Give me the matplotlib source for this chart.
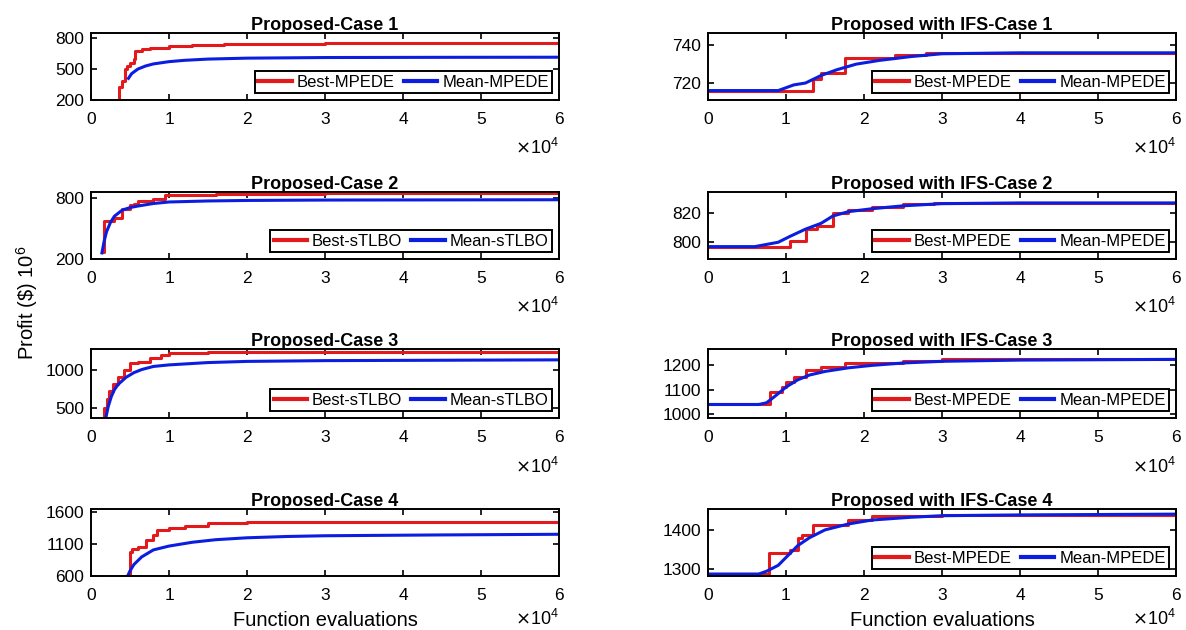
import matplotlib
matplotlib.use("Agg")
import matplotlib.pyplot as plt
from matplotlib.ticker import FuncFormatter

plt.rcParams['font.family'] = ['Liberation Sans', 'DejaVu Sans']

RED = '#e31a1c'
BLUE = '#0b1ee0'

# ---- Proposed, Case 1 (MPEDE) ----
c1_best_x = [3400, 3600, 4000, 4300, 4600, 5000, 5500, 5700, 6500, 7500, 10000, 13000, 17000, 20000, 30000, 60000]
c1_best_y = [200, 330, 380, 500, 530, 560, 600, 675, 690, 705, 720, 730, 740, 745, 750, 750]
c1_mean_x = [4800, 5200, 6000, 7000, 8000, 10000, 12000, 15000, 20000, 30000, 45000, 60000]
c1_mean_y = [410, 455, 500, 530, 550, 572, 585, 597, 606, 612, 614, 615]

# ---- Proposed, Case 2 (sTLBO) ----
c2_best_x = [1400, 1700, 3000, 4000, 5000, 5500, 6000, 8000, 9500, 12000, 16000, 20000, 30000, 60000]
c2_best_y = [270, 575, 600, 690, 730, 745, 770, 790, 825, 830, 835, 840, 845, 845]
c2_mean_x = [1400, 1700, 2000, 2500, 3000, 4000, 5000, 6000, 8000, 10000, 15000, 20000, 30000, 60000]
c2_mean_y = [260, 380, 470, 560, 620, 680, 705, 720, 745, 760, 770, 775, 779, 782]

# ---- Proposed, Case 3 (sTLBO) ----
c3_best_x = [1500, 1700, 2000, 2300, 2800, 3500, 4200, 5000, 6000, 7500, 9000, 10000, 15000, 20000, 30000, 60000]
c3_best_y = [375, 500, 620, 720, 810, 900, 990, 1080, 1100, 1150, 1185, 1210, 1220, 1228, 1230, 1230]
c3_mean_x = [1900, 2200, 2600, 3000, 3500, 4500, 5500, 6500, 8000, 10000, 15000, 20000, 30000, 45000, 60000]
c3_mean_y = [375, 520, 650, 740, 810, 900, 960, 1000, 1040, 1060, 1090, 1105, 1115, 1120, 1125]

# ---- Proposed, Case 4 (no legend) ----
c4_best_x = [4500, 5000, 5300, 6000, 7000, 8000, 8500, 10000, 12000, 15000, 20000, 30000, 60000]
c4_best_y = [600, 980, 1020, 1060, 1160, 1250, 1320, 1350, 1390, 1425, 1445, 1455, 1460]
c4_mean_x = [4700, 5000, 5500, 6500, 8000, 10000, 13000, 16000, 20000, 25000, 30000, 45000, 60000]
c4_mean_y = [600, 680, 780, 900, 1010, 1070, 1130, 1170, 1200, 1220, 1232, 1245, 1255]

# ---- Proposed with IFS, Case 1 ----
i1_best_x = [0, 13500, 14500, 17500, 18000, 24000, 28000, 60000]
i1_best_y = [716, 722, 725.5, 733, 733, 735, 736, 736]
i1_mean_x = [0, 9000, 10000, 11000, 12500, 14500, 16500, 19000, 22000, 26000, 30000, 40000, 60000]
i1_mean_y = [716, 716, 717.5, 719, 720, 724, 727, 730, 732, 734, 735.5, 736, 736]

# ---- Proposed with IFS, Case 2 ----
i2_best_x = [0, 10500, 12500, 14000, 16000, 18000, 21000, 25000, 29000, 60000]
i2_best_y = [797, 801, 809, 811, 820, 822, 824, 826, 827, 827]
i2_mean_x = [0, 6000, 7000, 9000, 10500, 12500, 14500, 16000, 18000, 21000, 25000, 30000, 40000, 60000]
i2_mean_y = [797, 797, 798, 800, 804, 809, 813, 818, 821, 823, 825, 826.5, 827, 827]

# ---- Proposed with IFS, Case 3 ----
i3_best_x = [0, 8000, 9500, 10000, 11000, 12500, 14500, 17500, 25000, 30000, 60000]
i3_best_y = [1038, 1090, 1110, 1130, 1150, 1180, 1195, 1210, 1218, 1225, 1225]
i3_mean_x = [0, 6500, 7500, 8500, 10000, 11500, 13000, 15000, 18000, 21000, 25000, 30000, 40000, 60000]
i3_mean_y = [1038, 1038, 1045, 1070, 1110, 1140, 1160, 1175, 1190, 1200, 1210, 1217, 1222, 1225]

# ---- Proposed with IFS, Case 4 ----
i4_best_x = [0, 7800, 10500, 11500, 12000, 13500, 18000, 21000, 30000, 60000]
i4_best_y = [1288, 1342, 1350, 1380, 1388, 1412, 1425, 1435, 1438, 1438]
i4_mean_x = [0, 6500, 7500, 9000, 10000, 11500, 13000, 15000, 18000, 21000, 26000, 30000, 40000, 60000]
i4_mean_y = [1288, 1288, 1295, 1310, 1330, 1360, 1380, 1400, 1415, 1425, 1432, 1436, 1438, 1440]

left_titles = ['Proposed-Case 1', 'Proposed-Case 2', 'Proposed-Case 3', 'Proposed-Case 4']
right_titles = ['Proposed with IFS-Case 1', 'Proposed with IFS-Case 2',
                'Proposed with IFS-Case 3', 'Proposed with IFS-Case 4']
left_legends = [('Best-MPEDE', 'Mean-MPEDE'), ('Best-sTLBO', 'Mean-sTLBO'),
                ('Best-sTLBO', 'Mean-sTLBO'), None]
right_legends = [('Best-MPEDE', 'Mean-MPEDE')] * 4

left_data = [(c1_best_x, c1_best_y, c1_mean_x, c1_mean_y),
             (c2_best_x, c2_best_y, c2_mean_x, c2_mean_y),
             (c3_best_x, c3_best_y, c3_mean_x, c3_mean_y),
             (c4_best_x, c4_best_y, c4_mean_x, c4_mean_y)]
right_data = [(i1_best_x, i1_best_y, i1_mean_x, i1_mean_y),
              (i2_best_x, i2_best_y, i2_mean_x, i2_mean_y),
              (i3_best_x, i3_best_y, i3_mean_x, i3_mean_y),
              (i4_best_x, i4_best_y, i4_mean_x, i4_mean_y)]

left_ylim = [(200, 850), (200, 858), (375, 1265), (600, 1652)]
left_yticks = [[200, 500, 800], [200, 800], [500, 1000], [600, 1100, 1600]]
right_ylim = [(711, 746.5), (788.5, 834.5), (982, 1268), (1283, 1453)]
right_yticks = [[720, 740], [800, 820], [1000, 1100, 1200], [1300, 1400]]

W, H = 1186, 630
fig = plt.figure(figsize=(W / 100, H / 100), dpi=100)

rows_px = [(33, 100), (192, 259), (349, 418), (509, 576)]
cols_px = [(91, 559), (708, 1176)]

xfmt = FuncFormatter(lambda v, p: f'{v / 1e4:g}')


def draw_panel(ax, data, title, legend, ylim, yticks, last_row):
    bx, by, mx, my = data
    lb, = ax.plot(bx, by, color=RED, lw=2.2, drawstyle='steps-post')
    lm, = ax.plot(mx, my, color=BLUE, lw=2.2)
    ax.set_xlim(0, 60000)
    ax.set_ylim(*ylim)
    ax.set_xticks([0, 10000, 20000, 30000, 40000, 50000, 60000])
    ax.xaxis.set_major_formatter(xfmt)
    ax.set_yticks(yticks)
    ax.tick_params(direction='in', top=True, right=True, length=4, width=1.2,
                   labelsize=12.5)
    ax.tick_params(axis='x', pad=8.5)
    ax.tick_params(axis='y', pad=5)
    for s in ax.spines.values():
        s.set_linewidth(1.4)
    ax.set_title(title, fontsize=13, fontweight='bold', pad=2)
    # scale factor for the x axis, placed under the right end
    ax.text(1.0, -0.64 if last_row else -0.71, r'$\times\mathregular{10^4}$',
            transform=ax.transAxes, ha='right', va='center', fontsize=13)
    if legend is not None:
        leg = ax.legend([lb, lm], list(legend), loc='lower right', ncol=2,
                        fontsize=12, handlelength=2.0, handletextpad=0.3,
                        columnspacing=0.55, borderpad=0.22, borderaxespad=0.4,
                        fancybox=False, framealpha=1, edgecolor='black')
        leg.get_frame().set_linewidth(1.4)
        for h in leg.legend_handles:
            h.set_linewidth(3)


for r, (top, bot) in enumerate(rows_px):
    for c, (x0, x1) in enumerate(cols_px):
        ax = fig.add_axes([x0 / W, 1 - bot / H, (x1 - x0) / W, (bot - top) / H])
        if c == 0:
            draw_panel(ax, left_data[r], left_titles[r], left_legends[r],
                       left_ylim[r], left_yticks[r], r == 3)
        else:
            draw_panel(ax, right_data[r], right_titles[r], right_legends[r],
                       right_ylim[r], right_yticks[r], r == 3)
        if r == 3:
            ax.set_xlabel('Function evaluations', fontsize=14.5, labelpad=6)

fig.text(27 / W, 1 - 303 / H, 'Profit (\\$) $\\mathregular{10^6}$', rotation=90,
         ha='center', va='center', fontsize=14.5)

fig.savefig('out.png', dpi=100)
